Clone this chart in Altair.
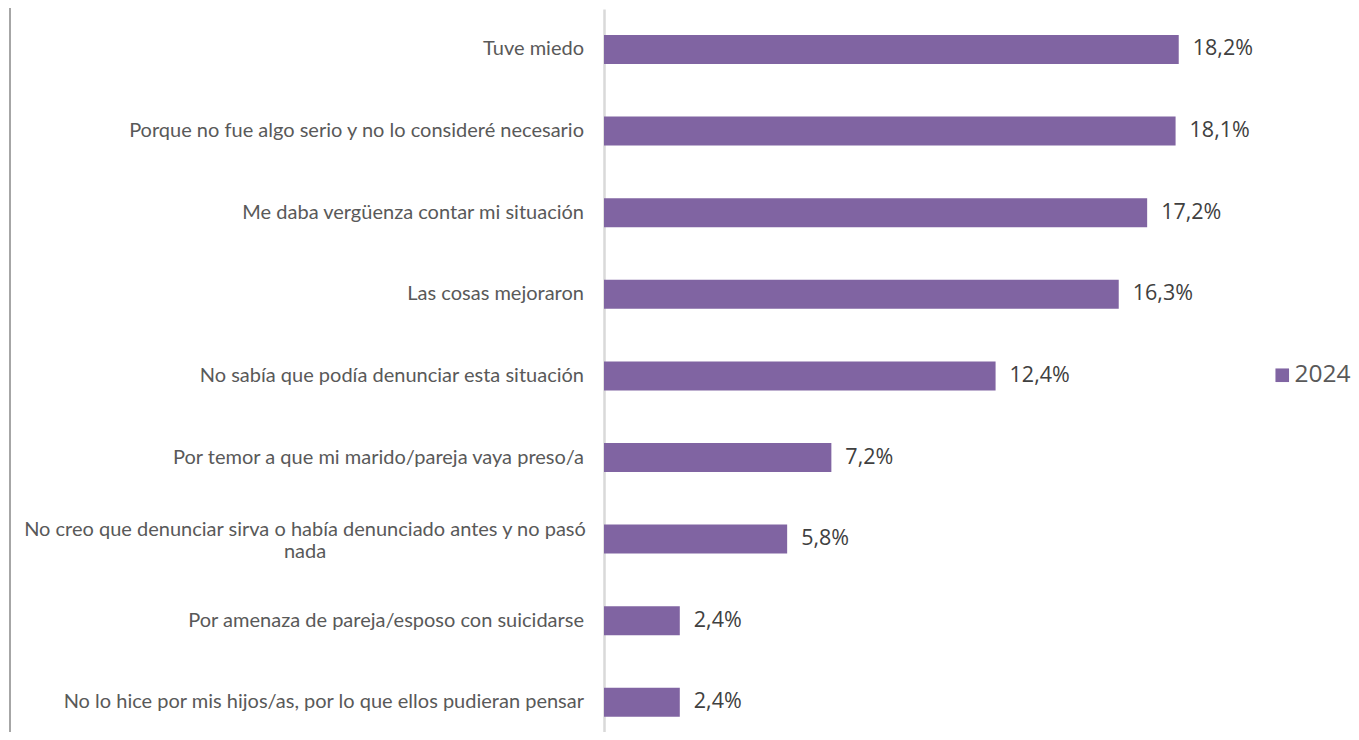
import altair as alt
import pandas as pd

categories = [
    "Tuve miedo",
    "Porque no fue algo serio y no lo consideré necesario",
    "Me daba vergüenza contar mi situación",
    "Las cosas mejoraron",
    "No sabía que podía denunciar esta situación",
    "Por temor a que mi marido/pareja vaya preso/a",
    "No creo que denunciar sirva o había denunciado antes y no pasó|nada",
    "Por amenaza de pareja/esposo con suicidarse",
    "No lo hice por mis hijos/as, por lo que ellos pudieran pensar",
]
values = [18.2, 18.1, 17.2, 16.3, 12.4, 7.2, 5.8, 2.4, 2.4]
series = ["2024"] * len(categories)
wrapped = [("|" in c) for c in categories]

df = pd.DataFrame({
    "cat": categories,
    "val": values,
    "serie": series,
    "wrapped": wrapped,
    "lbl": [f"{v:.1f}".replace(".", ",") + "%" for v in values],
})

PURPLE = "#8064A2"

y_enc = alt.Y(
    "cat:N",
    sort=categories,
    scale=alt.Scale(paddingInner=0.645, paddingOuter=0.2525, align=0.631),
    axis=alt.Axis(labels=False, ticks=False, title=None, domain=True,
                  domainColor="#D9D9D9", domainWidth=2.5, grid=False),
)
x_enc = alt.X(
    "val:Q",
    scale=alt.Scale(domain=[0, 19], nice=False),
    axis=None,
)

bars = alt.Chart(df).mark_bar(color=PURPLE).encode(
    y=y_enc,
    x=x_enc,
    color=alt.Color(
        "serie:N",
        scale=alt.Scale(domain=["2024"], range=[PURPLE]),
        legend=alt.Legend(
            title=None, orient="none", legendX=666, legendY=354,
            symbolType="square", symbolSize=185, symbolStrokeWidth=0,
            labelFont="Open Sans", labelFontSize=24.5, labelColor="#595959",
            labelOffset=0, padding=0,
        ),
    ),
)

values_text = alt.Chart(df).mark_text(
    align="left", baseline="middle", dx=14,
    font="Open Sans", fontSize=21.5, color="#404040",
).encode(y=alt.Y("cat:N", sort=categories), x="val:Q", text="lbl:N")

cat_text = alt.Chart(df).transform_filter("!datum.wrapped").mark_text(
    align="right", baseline="middle",
    font="Lato", fontSize=20, color="#595959",
).encode(y=alt.Y("cat:N", sort=categories), x=alt.value(-20), text="cat:N")

wrap_text = alt.Chart(df).transform_filter("datum.wrapped").mark_text(
    align="center", baseline="middle", lineBreak="|", lineHeight=22, dy=-9,
    font="Lato", fontSize=20, color="#595959",
).encode(y=alt.Y("cat:N", sort=categories), x=alt.value(-299), text="cat:N")

border = alt.Chart(df).mark_rule(color="#A6A6A6", strokeWidth=2).encode(
    x=alt.value(-594), y=alt.value(-10), y2=alt.value(730)
)

chart = alt.layer(border, bars, values_text, cat_text, wrap_text).properties(
    width=600, height=723,
    background="white",
    padding={"left": 596, "top": 1, "right": 147, "bottom": 0},
    autosize=alt.AutoSizeParams(type="none"),
).configure_view(strokeWidth=0, stroke="transparent")

chart.save("out.html", embed_options={"renderer": "svg", "actions": False})
